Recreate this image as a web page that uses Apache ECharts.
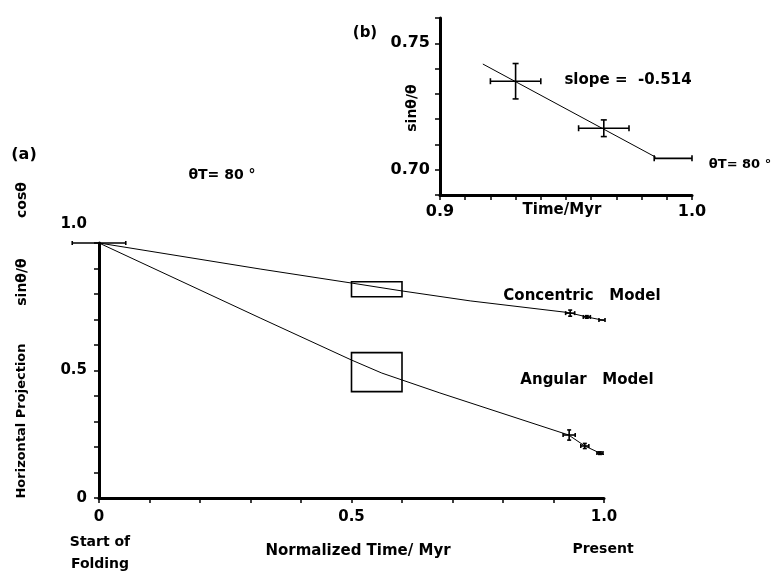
<!DOCTYPE html>
<html>
<head>
<meta charset="utf-8">
<script src="https://cdn.jsdelivr.net/npm/echarts@6/dist/echarts.min.js"></script>
<style>
  html, body { margin: 0; padding: 0; background: #fff; }
  #chart { width: 780px; height: 574px; }
</style>
</head>
<body>
<div id="chart"></div>
<script>
// main panel (a): horizontal projection vs normalized time
var concT = [0, 0.319, 0.5, 0.6, 0.735, 0.93, 0.966, 0.996, 1.0];
var concV = [1.0, 0.898, 0.843, 0.812, 0.773, 0.727, 0.710, 0.698, 0.696];
var angT = [0, 0.319, 0.5, 0.56, 0.675, 0.93, 0.962, 0.992, 1.0];
var angV = [1.0, 0.706, 0.541, 0.490, 0.412, 0.247, 0.204, 0.176, 0.170];
// [t, value, t error, value error]
var mainErr = [
    [0, 1.0, 0.053, 0],
    [0.933, 0.725, 0.009, 0.012],
    [0.966, 0.710, 0.007, 0.005],
    [0.996, 0.698, 0.006, 0],
    [0.931, 0.247, 0.012, 0.02],
    [0.962, 0.204, 0.008, 0.01],
    [0.992, 0.176, 0.006, 0.005]
];
// [t0, t1, v0, v1]
var boxConc = [0.5, 0.6, 0.789, 0.848];
var boxAng = [0.5, 0.6, 0.417, 0.570];

// inset (b)
var insetErr = [
    [0.930, 0.735, 0.010, 0.007],
    [0.965, 0.7164, 0.010, 0.0033],
    [0.9925, 0.7045, 0.0075, 0]
];
var fitT = [0.917, 0.9857];
var fitV = [0.7418, 0.7049];

var FONT = '"DejaVu Sans", "Liberation Sans", Arial, sans-serif';

function pairs(xs, ys) {
    var out = [];
    for (var i = 0; i < xs.length; i++) out.push([xs[i], ys[i]]);
    return out;
}

// error bars with small caps
function errRenderer(cap) {
    return function (params, api) {
        var x = api.value(0), y = api.value(1), dx = api.value(2), dy = api.value(3);
        var st = { stroke: '#000', lineWidth: 1.6 };
        var kids = [];
        if (dx > 0) {
            var l = api.coord([x - dx, y]), r = api.coord([x + dx, y]);
            kids.push({ type: 'line', shape: { x1: l[0], y1: l[1], x2: r[0], y2: r[1] }, style: st });
            kids.push({ type: 'line', shape: { x1: l[0], y1: l[1] - cap, x2: l[0], y2: l[1] + cap }, style: st });
            kids.push({ type: 'line', shape: { x1: r[0], y1: r[1] - cap, x2: r[0], y2: r[1] + cap }, style: st });
        }
        if (dy > 0) {
            var t = api.coord([x, y + dy]), b = api.coord([x, y - dy]);
            kids.push({ type: 'line', shape: { x1: t[0], y1: t[1], x2: b[0], y2: b[1] }, style: st });
            kids.push({ type: 'line', shape: { x1: t[0] - cap, y1: t[1], x2: t[0] + cap, y2: t[1] }, style: st });
            kids.push({ type: 'line', shape: { x1: b[0] - cap, y1: b[1], x2: b[0] + cap, y2: b[1] }, style: st });
        }
        return { type: 'group', children: kids };
    };
}

function boxArea(b) {
    return {
        silent: true,
        itemStyle: { color: 'rgba(0,0,0,0)', borderColor: '#000', borderWidth: 1.6 },
        data: [[{ coord: [b[0], b[2]] }, { coord: [b[1], b[3]] }]]
    };
}

function axisStyle() {
    return {
        axisLine: { lineStyle: { color: '#000', width: 3 } },
        axisTick: { show: true, inside: false, length: 5, lineStyle: { color: '#000', width: 1.5 } },
        splitLine: { show: false }
    };
}

function txt(x, y, s, size, rot) {
    var el = {
        type: 'text', x: x, y: y,
        style: { text: s, font: 'bold ' + size + 'px ' + FONT, fill: '#000', textAlign: 'center', textVerticalAlign: 'middle' }
    };
    if (rot) el.rotation = Math.PI / 2;
    return el;
}

var labelFont = { color: '#000', fontFamily: FONT, fontWeight: 'bold', fontSize: 15 };

var myChart = echarts.init(document.getElementById('chart'), null, { renderer: 'canvas' });

var option = {
    backgroundColor: '#fff',
    animation: false,
    grid: [
        { left: 99, right: 176, top: 243, bottom: 76 },
        { left: 440, right: 88, top: 18, bottom: 379 }
    ],
    xAxis: [
        Object.assign(axisStyle(), {
            type: 'value', gridIndex: 0, min: 0, max: 1, interval: 0.1,
            axisLabel: Object.assign({}, labelFont, {
                margin: 12,
                formatter: function (v) {
                    if (Math.abs(v) < 1e-9) return '0';
                    if (Math.abs(v - 0.5) < 1e-9) return '0.5';
                    if (Math.abs(v - 1) < 1e-9) return '1.0';
                    return '';
                }
            })
        }),
        Object.assign(axisStyle(), {
            type: 'value', gridIndex: 1, min: 0.9, max: 1.0, interval: 0.01,
            axisLabel: Object.assign({}, labelFont, {
                fontSize: 16, margin: 9,
                formatter: function (v) {
                    if (Math.abs(v - 0.9) < 1e-9) return '0.9';
                    if (Math.abs(v - 1) < 1e-9) return '1.0';
                    return '';
                }
            })
        })
    ],
    yAxis: [
        Object.assign(axisStyle(), {
            type: 'value', gridIndex: 0, min: 0, max: 1, interval: 0.1,
            axisLabel: Object.assign({}, labelFont, {
                margin: 12,
                formatter: function (v) {
                    if (Math.abs(v) < 1e-9) return '0';
                    if (Math.abs(v - 0.5) < 1e-9) return '0.5';
                    if (Math.abs(v - 1) < 1e-9) return '{up|1.0}';
                    return '';
                },
                rich: { up: { fontFamily: FONT, fontWeight: 'bold', fontSize: 15, color: '#000', padding: [0, 0, 38, 0] } }
            })
        }),
        Object.assign(axisStyle(), {
            type: 'value', gridIndex: 1, min: 0.69, max: 0.76, interval: 0.01,
            axisLabel: Object.assign({}, labelFont, {
                fontSize: 16, margin: 10,
                formatter: function (v) {
                    if (Math.abs(v - 0.70) < 1e-9) return '0.70';
                    if (Math.abs(v - 0.75) < 1e-9) return '0.75';
                    return '';
                }
            })
        })
    ],
    series: [
        {
            name: 'Concentric Model', type: 'line', xAxisIndex: 0, yAxisIndex: 0,
            data: pairs(concT, concV), showSymbol: false, smooth: false,
            lineStyle: { color: '#000', width: 1 },
            markArea: boxArea(boxConc)
        },
        {
            name: 'Angular Model', type: 'line', xAxisIndex: 0, yAxisIndex: 0,
            data: pairs(angT, angV), showSymbol: false, smooth: false,
            lineStyle: { color: '#000', width: 1 },
            markArea: boxArea(boxAng)
        },
        {
            type: 'custom', xAxisIndex: 0, yAxisIndex: 0, clip: false,
            renderItem: errRenderer(2), data: mainErr, z: 5
        },
        {
            name: 'fit', type: 'line', xAxisIndex: 1, yAxisIndex: 1,
            data: pairs(fitT, fitV), showSymbol: false,
            lineStyle: { color: '#000', width: 1 }
        },
        {
            type: 'custom', xAxisIndex: 1, yAxisIndex: 1, clip: false,
            renderItem: errRenderer(3), data: insetErr, z: 5
        }
    ],
    graphic: [
        txt(24, 155, '(a)', 16),
        txt(22, 200, 'cosθ', 14, true),
        txt(22, 282, 'sinθ/θ', 14, true),
        txt(22, 421, 'Horizontal Projection', 13, true),
        txt(222, 175, 'θT= 80 °', 14),
        txt(582, 296, 'Concentric   Model', 15),
        txt(587, 380, 'Angular   Model', 15),
        txt(100, 542, 'Start of', 14),
        txt(100, 564, 'Folding', 14),
        txt(358, 551, 'Normalized Time/ Myr', 15),
        txt(603, 549, 'Present', 14),
        txt(365, 33, '(b)', 15),
        txt(412, 108, 'sinθ/θ', 14, true),
        txt(562, 210, 'Time/Myr', 15),
        txt(628, 80, 'slope =  -0.514', 15),
        txt(740, 165, 'θT= 80 °', 13)
    ]
};

myChart.setOption(option);
window.onresize = myChart.resize;
</script>
</body>
</html>
